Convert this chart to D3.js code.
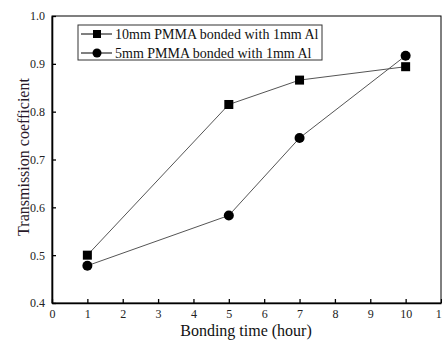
<!DOCTYPE html>
<html>
<head>
<meta charset="utf-8">
<script src="https://cdn.jsdelivr.net/npm/d3@7.9.0/dist/d3.min.js"></script>
<style>
  body { margin: 0; background: #fff; }
  svg { display: block; }
  svg text { font-family: "Liberation Serif", "Times New Roman", serif; }
</style>
</head>
<body>
<svg id="chart" width="442" height="341"></svg>
<script>
const hours = [1, 5, 7, 10];
const pmma10 = [0.500, 0.815, 0.866, 0.894];
const pmma5 = [0.478, 0.583, 0.745, 0.917];
const seriesNames = ['10mm PMMA bonded with 1mm Al', '5mm PMMA bonded with 1mm Al'];
const xTicks = [0, 1, 2, 3, 4, 5, 6, 7, 8, 9, 10, 11];
const yTicks = [0.4, 0.5, 0.6, 0.7, 0.8, 0.9, 1.0];

const svg = d3.select('#chart');
const plotLeft = 52, plotRight = 441, plotTop = 16, plotBottom = 303;

let x = d3.scaleLinear().domain([0, 11]).range([plotLeft, plotRight]);
let y = d3.scaleLinear().domain([0.4, 1.0]).range([plotBottom, plotTop]);

// frame
svg.append('rect')
  .attr('x', plotLeft).attr('y', plotTop)
  .attr('width', plotRight - plotLeft).attr('height', plotBottom - plotTop)
  .attr('fill', 'none').attr('stroke', '#000').attr('stroke-width', 1);

let xAxis = svg.append('g')
  .attr('transform', `translate(0,${plotBottom})`)
  .call(d3.axisBottom(x).tickValues(xTicks).tickFormat(d3.format('d')).tickSizeInner(-4).tickSizeOuter(0).tickPadding(6));
let yAxis = svg.append('g')
  .attr('transform', `translate(${plotLeft},0)`)
  .call(d3.axisLeft(y).tickValues(yTicks).tickFormat(d3.format('.1f')).tickSizeInner(-4).tickSizeOuter(0).tickPadding(7));

[xAxis, yAxis].forEach(a => {
  a.select('.domain').attr('stroke', '#000').attr('stroke-width', 1.6);
  a.selectAll('.tick line').attr('stroke', '#000').attr('stroke-width', 1.3);
  a.selectAll('.tick text')
    .style('font-family', '"Liberation Serif", "Times New Roman", serif')
    .style('font-size', '12px').attr('fill', '#222');
});

svg.append('text')
  .attr('x', 246).attr('y', 336)
  .attr('text-anchor', 'middle').style('font-size', '16px').attr('fill', '#111')
  .text('Bonding time (hour)');
svg.append('text')
  .attr('transform', `translate(29,157) rotate(-90)`)
  .attr('text-anchor', 'middle').style('font-size', '16px').attr('fill', '#2a1a2a')
  .text('Transmission coefficient');

let line = d3.line().x(d => x(d[0])).y(d => y(d[1]));
let data10 = hours.map((h, i) => [h, pmma10[i]]);
let data5 = hours.map((h, i) => [h, pmma5[i]]);

[data10, data5].forEach(d => {
  svg.append('path').attr('d', line(d))
    .attr('fill', 'none').attr('stroke', '#555').attr('stroke-width', 1);
});

svg.selectAll('rect.sq').data(data10).join('rect').attr('class', 'sq')
  .attr('x', d => x(d[0]) - 4.5).attr('y', d => y(d[1]) - 4.5)
  .attr('width', 9).attr('height', 9).attr('fill', '#000');
svg.selectAll('circle.ci').data(data5).join('circle').attr('class', 'ci')
  .attr('cx', d => x(d[0])).attr('cy', d => y(d[1]))
  .attr('r', 5).attr('fill', '#000');

// legend
let lg = svg.append('g');
lg.append('rect').attr('x', 78).attr('y', 25).attr('width', 244).attr('height', 35)
  .attr('fill', '#fff').attr('stroke', '#333').attr('stroke-width', 1);
seriesNames.forEach((name, i) => {
  let cy = 34 + i * 19;
  lg.append('line').attr('x1', 81).attr('x2', 112).attr('y1', cy).attr('y2', cy)
    .attr('stroke', '#000').attr('stroke-width', 1);
  if (i === 0) {
    lg.append('rect').attr('x', 93).attr('y', cy - 4).attr('width', 8).attr('height', 8).attr('fill', '#000');
  } else {
    lg.append('circle').attr('cx', 97).attr('cy', cy).attr('r', 4.5).attr('fill', '#000');
  }
  lg.append('text').attr('x', 115).attr('y', cy + 4.5)
    .style('font-size', '14px').attr('fill', '#111').text(name);
});
</script>
</body>
</html>
